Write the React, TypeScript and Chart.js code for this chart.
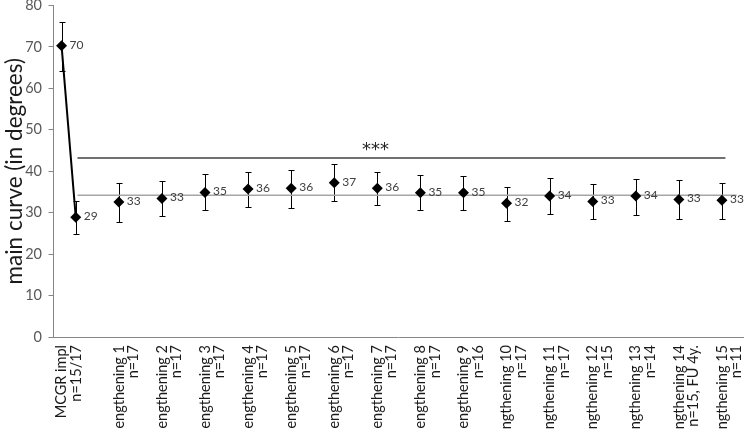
import { useEffect, useRef } from 'react';
import { Chart, registerables } from 'chart.js';

Chart.register(...registerables);

// ---------- data ----------
const categories = [
  'MCGR impl', 'lengthening 1', 'lengthening 2', 'lengthening 3', 'lengthening 4',
  'lengthening 5', 'lengthening 6', 'lengthening 7', 'lengthening 8', 'lengthening 9',
  'lengthening 10', 'lengthening 11', 'lengthening 12', 'lengthening 13', 'lengthening 14',
  'lengthening 15',
];
const sampleSizes = [
  'n=15/17', 'n=17', 'n=17', 'n=17', 'n=17', 'n=17', 'n=17', 'n=17', 'n=17', 'n=16',
  'n=17', 'n=17', 'n=15', 'n=14', 'n=15, FU 4y.', 'n=11',
];
const means = [28.9, 32.6, 33.4, 34.9, 35.7, 35.9, 37.2, 35.9, 34.8, 34.8, 32.3, 34.0, 32.7, 34.0, 33.2, 33.0];
const lows = [24.9, 27.8, 29.2, 30.6, 31.4, 31.2, 32.7, 31.9, 30.6, 30.6, 27.9, 29.6, 28.5, 29.5, 28.5, 28.5];
const highs = [32.9, 37.1, 37.6, 39.3, 39.8, 40.3, 41.8, 39.8, 39.0, 38.8, 36.3, 38.4, 36.9, 38.2, 37.9, 37.2];

// pre-operative value, plotted just left of "MCGR impl"
const preOpPosition = -0.33;
const preOpMean = 70.3;
const preOpLow = 64.3;
const preOpHigh = 76.0;

// horizontal reference lines
const meanLevel = 34.2;
const meanLineRange = [0.04, 15.34];
const sigLevel = 43.2;
const sigLineRange = [0.04, 15.08];
const sigText = '***';
const sigTextPosition = [6.96, 45.0];

const yMin = 0;
const yMax = 80;
const yStep = 10;
const yTitle = 'main curve (in degrees)';

const FONT = 'Lato, "Open Sans", sans-serif';

const errorBarPlugin = {
  id: 'errorBars',
  beforeDatasetsDraw(chart: any) {
    const { ctx } = chart;
    const yScale = chart.scales.y;
    chart.data.datasets.forEach((ds: any, di: number) => {
      if (!ds.errLow) return;
      const meta = chart.getDatasetMeta(di);
      meta.data.forEach((el: any, i: number) => {
        const x = Math.round(el.x) + 0.5;
        const yl = Math.round(yScale.getPixelForValue(ds.errLow[i])) + 0.5;
        const yh = Math.round(yScale.getPixelForValue(ds.errHigh[i])) + 0.5;
        ctx.save();
        ctx.strokeStyle = '#000';
        ctx.lineWidth = 1;
        ctx.beginPath();
        ctx.moveTo(x, yl);
        ctx.lineTo(x, yh);
        ctx.moveTo(x - 3, yl);
        ctx.lineTo(x + 3, yl);
        ctx.moveTo(x - 3, yh);
        ctx.lineTo(x + 3, yh);
        ctx.stroke();
        ctx.restore();
      });
    });
  },
  afterDatasetsDraw(chart: any) {
    const { ctx } = chart;
    ctx.save();
    ctx.font = `12px ${FONT}`;
    ctx.fillStyle = '#404040';
    ctx.textAlign = 'left';
    ctx.textBaseline = 'middle';
    chart.data.datasets.forEach((ds: any, di: number) => {
      if (!ds.showValues) return;
      const meta = chart.getDatasetMeta(di);
      meta.data.forEach((el: any, i: number) => {
        const v = ds.data[i].y;
        ctx.fillText(String(Math.round(v)), el.x + 8, el.y - 1);
      });
    });
    const xs = chart.scales.x;
    const ys = chart.scales.y;
    ctx.font = `18px "DejaVu Sans", sans-serif`;
    ctx.fillStyle = '#262626';
    ctx.textAlign = 'center';
    ctx.textBaseline = 'middle';
    ctx.fillText(sigText, xs.getPixelForValue(sigTextPosition[0]), ys.getPixelForValue(sigTextPosition[1]));
    ctx.restore();
  },
};

export default function App() {
  const ref = useRef<HTMLCanvasElement | null>(null);

  useEffect(() => {
    if (!ref.current) return;
    const tickPositions = [preOpPosition, ...categories.slice(1).map((_, i) => i + 1)];
    const yTickValues: number[] = [];
    for (let v = yMin; v <= yMax; v += yStep) yTickValues.push(v);

    const chart = new Chart(ref.current, {
      type: 'line',
      data: {
        datasets: [
          {
            label: 'implantation',
            data: [
              { x: preOpPosition, y: preOpMean },
              { x: 0, y: means[0] },
            ],
            errLow: [preOpLow, lows[0]],
            errHigh: [preOpHigh, highs[0]],
            showValues: true,
            borderColor: '#000',
            borderWidth: 2,
            backgroundColor: '#000',
            pointStyle: 'rectRot',
            pointRadius: 5.5,
            pointBorderWidth: 0,
          } as any,
          {
            label: 'lengthenings',
            data: means.slice(1).map((m, i) => ({ x: i + 1, y: m })),
            errLow: lows.slice(1),
            errHigh: highs.slice(1),
            showValues: true,
            showLine: false,
            borderColor: '#000',
            backgroundColor: '#000',
            pointStyle: 'rectRot',
            pointRadius: 5.5,
            pointBorderWidth: 0,
          } as any,
          {
            label: 'mean',
            data: [
              { x: meanLineRange[0], y: meanLevel },
              { x: meanLineRange[1], y: meanLevel },
            ],
            borderColor: '#a6a6a6',
            borderWidth: 1.5,
            pointRadius: 0,
          },
          {
            label: 'significance',
            data: [
              { x: sigLineRange[0], y: sigLevel },
              { x: sigLineRange[1], y: sigLevel },
            ],
            borderColor: '#404040',
            borderWidth: 1.5,
            pointRadius: 0,
          },
        ],
      },
      options: {
        responsive: false,
        animation: false,
        layout: { padding: { top: 3.5, left: 0, right: 0, bottom: 0 } },
        plugins: { legend: { display: false }, tooltip: { enabled: false } },
        scales: {
          x: {
            type: 'linear',
            min: -0.517,
            max: 15.5,
            grid: { display: false, drawTicks: false },
            border: { display: true, color: '#868686', width: 1 },
            afterBuildTicks: (scale: any) => {
              scale.ticks = tickPositions.map((v) => ({ value: v }));
            },
            afterFit: (scale: any) => {
              scale.height = 92;
              scale.paddingLeft = 0;
              scale.paddingRight = 0;
            },
            ticks: {
              autoSkip: false,
              minRotation: 90,
              maxRotation: 90,
              padding: 8,
              color: '#1a1a1a',
              font: { family: FONT, size: 14.5, lineHeight: 1.0 },
              callback: (_v: any, i: number) => [categories[i], sampleSizes[i]],
            },
          },
          y: {
            min: yMin,
            max: yMax,
            afterBuildTicks: (scale: any) => {
              scale.ticks = yTickValues.map((v) => ({ value: v }));
            },
            afterFit: (scale: any) => {
              scale.width = 53.5;
              scale.paddingTop = 0;
              scale.paddingBottom = 0;
            },
            grid: { display: true, drawOnChartArea: false, drawTicks: true, tickLength: 5, color: '#868686' },
            border: { display: true, color: '#868686', width: 1 },
            ticks: {
              padding: 6.5,
              color: '#595959',
              font: { family: FONT, size: 14.5 },
            },
            title: {
              display: true,
              text: yTitle,
              color: '#1a1a1a',
              font: { family: FONT, size: 22.5 },
              padding: { top: 1, bottom: 0 },
            },
          },
        },
      },
      plugins: [errorBarPlugin],
    });
    return () => chart.destroy();
  }, []);

  return (
    <div style={{ position: 'absolute', left: 0, top: 0, width: 749, height: 429, background: '#fff' }}>
      <canvas ref={ref} width={749} height={429} style={{ display: 'block' }} />
    </div>
  );
}
